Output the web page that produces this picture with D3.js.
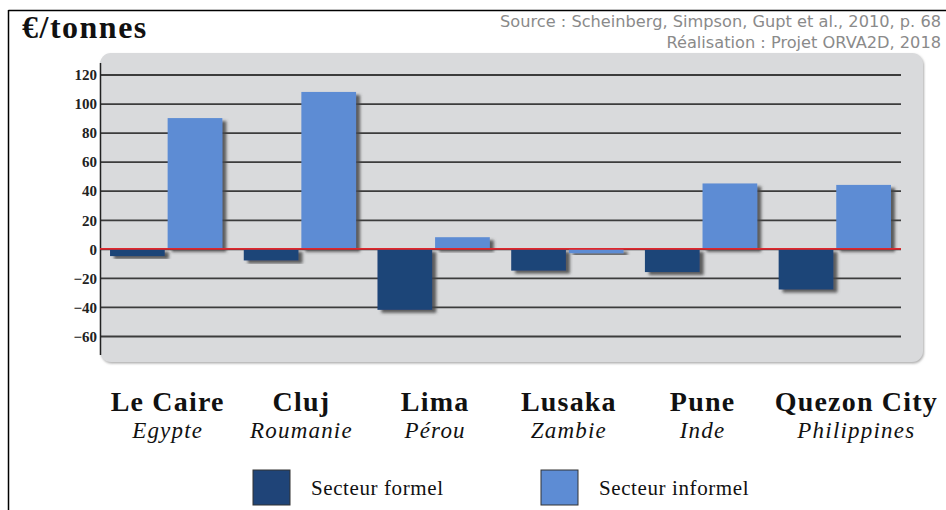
<!DOCTYPE html>
<html><head><meta charset="utf-8">
<script src="https://cdn.jsdelivr.net/npm/d3@7"></script>
<style>body{margin:0;background:#fff;} svg{display:block;}</style>
</head><body>
<svg id="c" width="946" height="510"></svg>
<script>
const cities = ["Le Caire","Cluj","Lima","Lusaka","Pune","Quezon City"];
const countries = ["Egypte","Roumanie","Pérou","Zambie","Inde","Philippines"];
const formel = [-5,-8,-42,-15,-16,-28];
const informel = [90,108,8,-3,45,44];
const yTicks = [120,100,80,60,40,20,0,-20,-40,-60];
const seriesNames = ["Secteur formel","Secteur informel"];
const colors = ["#1f4478","#5d8cd4"];

const svg = d3.select("#c");
const serif = "'Liberation Serif', serif";

const defs = svg.append("defs");
const f = defs.append("filter").attr("id","sh").attr("x","-20%").attr("y","-20%").attr("width","150%").attr("height","150%");
f.append("feDropShadow").attr("dx",4).attr("dy",3).attr("stdDeviation",1.4).attr("flood-color","#444").attr("flood-opacity",0.85);
const pf = defs.append("filter").attr("id","psh").attr("x","-5%").attr("y","-5%").attr("width","110%").attr("height","110%");
pf.append("feDropShadow").attr("dx",1).attr("dy",1.5).attr("stdDeviation",0.8).attr("flood-color","#999").attr("flood-opacity",0.8);

// frame lines
svg.append("line").attr("x1",8.5).attr("x2",946).attr("y1",10.5).attr("y2",10.5).attr("stroke","#000").attr("stroke-width",1.5);
svg.append("line").attr("x1",8.5).attr("x2",8.5).attr("y1",10).attr("y2",510).attr("stroke","#000").attr("stroke-width",1.5);

// title texts
svg.append("text").attr("x",22).attr("y",38).attr("font-family",serif).attr("font-weight","bold").attr("font-size",32).attr("letter-spacing",1.5).attr("fill","#111").text("€/tonnes");
const sans = "'DejaVu Sans',sans-serif";
svg.append("text").attr("x",941).attr("y",27).attr("text-anchor","end").attr("font-family",sans).attr("font-size",16.2).attr("fill","#8a8a8a").text("Source : Scheinberg, Simpson, Gupt et al., 2010, p. 68");
svg.append("text").attr("x",941).attr("y",48).attr("text-anchor","end").attr("font-family",sans).attr("font-size",16.2).attr("fill","#8a8a8a").text("Réalisation : Projet ORVA2D, 2018");

// panel
svg.append("rect").attr("x",100).attr("y",53).attr("width",823).attr("height",309).attr("rx",11).attr("fill","#d9dadc").attr("filter","url(#psh)");

const y = d3.scaleLinear().domain([-60,120]).range([336,74.5]);
const x = d3.scaleBand().domain(cities).range([100,901]).paddingInner(0.16).paddingOuter(0.075);
const xs = d3.scaleBand().domain([0,1]).range([0,x.bandwidth()]).paddingInner(0.05);

// gridlines via axis
const gAxis = svg.append("g").attr("transform","translate(100,0)")
  .call(d3.axisRight(y).tickValues(yTicks).tickSize(801).tickFormat(""));
gAxis.select(".domain").remove();
gAxis.selectAll(".tick line").attr("stroke","#2a2a2a").attr("stroke-width",1.8).attr("stroke-opacity",0.9);

// y labels
const gL = svg.append("g").attr("transform","translate(97,0)")
  .call(d3.axisLeft(y).tickValues(yTicks).tickSize(0).tickPadding(0));
gL.select(".domain").remove();
gL.selectAll("text").attr("font-family",serif).attr("font-weight","bold").attr("font-size",15).attr("fill","#222").attr("dy","0.35em");

// y axis line
svg.append("line").attr("x1",100.5).attr("x2",100.5).attr("y1",63).attr("y2",355).attr("stroke","#222").attr("stroke-width",1.5);

// bars
const data = cities.map((c,i)=>({c, v:[formel[i],informel[i]]}));
const groups = svg.append("g").selectAll("g").data(data).join("g").attr("transform",d=>`translate(${x(d.c)},0)`);
groups.selectAll("rect").data(d=>d.v.map((v,k)=>({v,k}))).join("rect")
  .attr("x",d=>xs(d.k)).attr("width",xs.bandwidth())
  .attr("y",d=>y(Math.max(0,d.v))).attr("height",d=>Math.abs(y(d.v)-y(0)))
  .attr("fill",d=>colors[d.k]).attr("filter","url(#sh)");

// zero line
svg.append("line").attr("x1",100).attr("x2",901).attr("y1",y(0)).attr("y2",y(0)).attr("stroke","#e0262b").attr("stroke-width",1.8);

// category labels
const cl = svg.append("g");
cities.forEach((c,i)=>{
  let cx = x(c)+x.bandwidth()/2 + 1.5;
  const t = cl.append("text").attr("y",411).attr("text-anchor","middle").attr("font-family",serif).attr("font-weight","bold").attr("font-size",28).attr("letter-spacing",1.2).attr("fill","#111").text(c).attr("x",cx);
  const w = t.node().getComputedTextLength();
  if (i === cities.length - 1) { cx = 938 - w/2; t.attr("x",cx); }
  cl.append("text").attr("x",cx).attr("y",438).attr("text-anchor","middle").attr("font-family",serif).attr("font-style","italic").attr("font-size",23).attr("letter-spacing",1.2).attr("fill","#111").text(countries[i]);
});

// legend
const legX = [253,541];
seriesNames.forEach((s,k)=>{
  svg.append("rect").attr("x",legX[k]).attr("y",470).attr("width",37).attr("height",35).attr("fill",colors[k]).attr("stroke","#333").attr("stroke-width",1);
  svg.append("text").attr("x",legX[k]+58).attr("y",495).attr("font-family",serif).attr("font-size",21).attr("letter-spacing",0.6).attr("fill","#111").text(s);
});
</script>
</body></html>
